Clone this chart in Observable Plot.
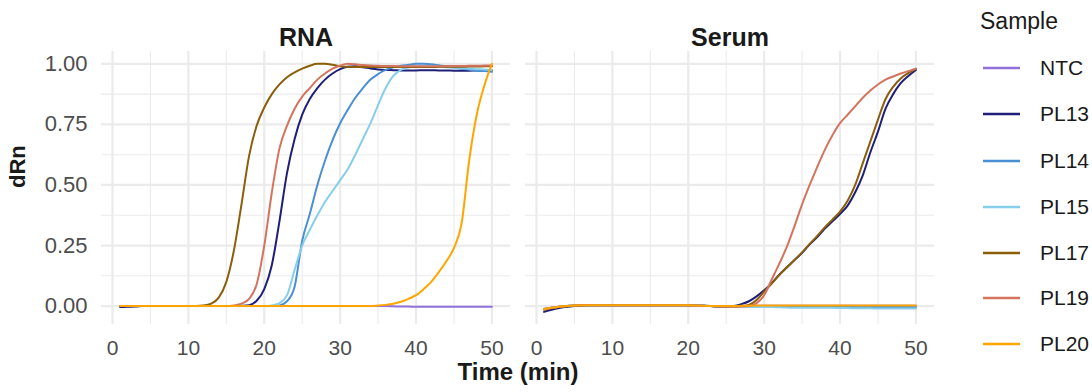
<!DOCTYPE html>
<html>
<head>
<meta charset="utf-8">
<script src="https://cdn.jsdelivr.net/npm/d3@7"></script>
<script src="https://cdn.jsdelivr.net/npm/@observablehq/plot@0.6"></script>
<style>
  html, body { margin: 0; padding: 0; background: #fff; }
  #wrap { position: relative; width: 1092px; height: 392px; font-family: "Liberation Sans", Arial, sans-serif; }
  #chart { position: absolute; left: 0; top: 0; }
  #legend { position: absolute; left: 960px; top: 0; }
</style>
</head>
<body>
<div id="wrap"><div id="chart"></div><div id="legend"></div></div>
<script>
// ---- data ----
const panels = ["RNA", "Serum"];
const samples = ["NTC", "PL13", "PL14", "PL15", "PL17", "PL19", "PL20"];
const colors = ["#9370DB", "#1F1F7A", "#4A8FD4", "#87CEEB", "#8B5E0A", "#D4735E", "#FFA500"];
const majorX = [0, 10, 20, 30, 40, 50];
const minorX = [5, 15, 25, 35, 45];
const majorY = [0, 0.25, 0.5, 0.75, 1];
const minorY = [0.125, 0.375, 0.625, 0.875];

const time = [1,2,3,4,5,6,7,8,9,10,11,12,13,14,15,16,17,18,19,20,21,22,23,24,25,26,27,28,29,30,31,32,33,34,35,36,37,38,39,40,41,42,43,44,45,46,47,48,49,50];

// RNA panel
const rnaNTC  = [0,0,0,0,0,0,0,0,0,0, 0,0,0,0,0,0,0,0,0,0, 0,0,0,0,0,0,0,0,0,0, 0,0,0,0,0,0,-0.001,-0.002,-0.002,-0.003, -0.003,-0.003,-0.003,-0.003,-0.003,-0.003,-0.003,-0.003,-0.003,-0.003];
const rnaPL13 = [-0.004,-0.003,-0.002,0,0,0,0,0,0,0, 0,0,0,0,0,0,0.001,0.004,0.022,0.07, 0.17,0.35,0.55,0.69,0.79,0.855,0.9,0.935,0.96,0.978, 0.988,0.99,0.986,0.981,0.977,0.975,0.974,0.973,0.973,0.973, 0.974,0.974,0.973,0.973,0.972,0.972,0.972,0.973,0.973,0.973];
const rnaPL14 = [0,0,0,0,0,0,0,0,0,0, 0,0,0,0,0,0,0,0,0,0, 0,0.003,0.02,0.08,0.27,0.38,0.5,0.6,0.685,0.755, 0.81,0.86,0.9,0.935,0.958,0.975,0.986,0.992,0.996,1.0, 1.0,0.998,0.994,0.99,0.985,0.98,0.976,0.972,0.97,0.967];
const rnaPL15 = [0,0,0,0,0,0,0,0,0,0, 0,0,0,0,0,0,0,0,0,0, 0.003,0.012,0.045,0.15,0.25,0.315,0.375,0.43,0.475,0.52, 0.565,0.625,0.69,0.755,0.83,0.9,0.95,0.975,0.985,0.99, 0.99,0.99,0.988,0.986,0.984,0.982,0.98,0.978,0.977,0.975];
const rnaPL17 = [0,0,0,0,0,0,0,0,0,0, 0,0.002,0.01,0.035,0.1,0.23,0.42,0.62,0.745,0.82, 0.875,0.915,0.945,0.965,0.98,0.992,1.0,1.0,0.996,0.99, 0.988,0.987,0.987,0.987,0.987,0.987,0.987,0.987,0.987,0.987, 0.987,0.987,0.988,0.988,0.988,0.988,0.989,0.989,0.99,0.99];
const rnaPL19 = [0,0,0,0,0,0,0,0,0,0, 0,0,0,0,0,0.003,0.01,0.03,0.09,0.25, 0.47,0.65,0.745,0.815,0.865,0.9,0.935,0.96,0.98,0.993, 1.0,0.998,0.995,0.993,0.992,0.991,0.991,0.99,0.99,0.99, 0.99,0.99,0.99,0.991,0.991,0.991,0.992,0.992,0.993,0.993];
const rnaPL20 = [0,0,0,0,0,0,0,0,0,0, 0,0,0,0,0,0,0,0,0,0, 0,0,0,0,0,0,0,0,0,0, 0,0,0,0,0.002,0.005,0.01,0.018,0.03,0.045, 0.07,0.1,0.14,0.185,0.24,0.34,0.6,0.79,0.91,1.0];

// Serum panel
const serumNTC  = [-0.012,-0.007,-0.003,0,0.002,0.003,0.003,0.003,0.003,0.003, 0.003,0.003,0.003,0.003,0.003,0.003,0.003,0.003,0.003,0.003, 0.002,0.001,0,-0.002,-0.002,-0.001,0,0.001,0.001,0.001, 0.001,0.001,0.001,0.001,0.001,0.001,0.001,0.001,0.001,0.001, 0.001,0.001,0.001,0.001,0.001,0.001,0.001,0.001,0.001,0.001];
const serumPL13 = [-0.024,-0.015,-0.008,-0.003,0,0.002,0.003,0.003,0.003,0.003, 0.003,0.003,0.003,0.003,0.003,0.003,0.003,0.003,0.003,0.003, 0.002,0.001,0,-0.002,-0.002,0,0.008,0.02,0.04,0.065, 0.095,0.13,0.16,0.19,0.22,0.255,0.285,0.32,0.35,0.38, 0.415,0.47,0.54,0.635,0.72,0.815,0.875,0.92,0.95,0.975];
const serumPL14 = [-0.012,-0.007,-0.003,0,0.002,0.003,0.003,0.003,0.003,0.003, 0.003,0.003,0.003,0.003,0.003,0.003,0.003,0.003,0.003,0.003, 0.002,0.001,0,-0.001,-0.001,-0.001,-0.001,-0.002,-0.002,-0.002, -0.003,-0.003,-0.003,-0.003,-0.003,-0.003,-0.004,-0.004,-0.004,-0.004, -0.004,-0.004,-0.004,-0.004,-0.004,-0.004,-0.004,-0.004,-0.004,-0.004];
const serumPL15 = [-0.012,-0.007,-0.003,0,0.002,0.003,0.003,0.003,0.003,0.003, 0.003,0.003,0.003,0.003,0.003,0.003,0.003,0.003,0.003,0.003, 0.002,0.001,0,-0.001,-0.001,-0.002,-0.002,-0.003,-0.003,-0.004, -0.004,-0.005,-0.006,-0.007,-0.007,-0.007,-0.007,-0.007,-0.007,-0.008, -0.008,-0.009,-0.009,-0.009,-0.01,-0.01,-0.01,-0.01,-0.01,-0.01];
const serumPL17 = [-0.015,-0.009,-0.004,-0.001,0.001,0.003,0.003,0.003,0.003,0.003, 0.003,0.003,0.003,0.003,0.003,0.003,0.003,0.003,0.003,0.003, 0.002,0.001,0,-0.001,-0.001,-0.001,0,0.005,0.025,0.06, 0.093,0.128,0.16,0.19,0.222,0.257,0.29,0.325,0.357,0.39, 0.435,0.5,0.59,0.68,0.77,0.855,0.905,0.94,0.962,0.98];
const serumPL19 = [-0.012,-0.007,-0.003,0,0.002,0.003,0.003,0.003,0.003,0.003, 0.003,0.003,0.003,0.003,0.003,0.003,0.003,0.003,0.003,0.003, 0.002,0.001,0,-0.002,-0.003,-0.003,-0.002,0,0.012,0.045, 0.11,0.175,0.245,0.33,0.42,0.5,0.575,0.645,0.705,0.755, 0.79,0.825,0.86,0.89,0.915,0.935,0.948,0.96,0.97,0.98];
const serumPL20 = [-0.012,-0.007,-0.003,0,0.002,0.003,0.003,0.003,0.003,0.003, 0.003,0.003,0.003,0.003,0.003,0.003,0.003,0.003,0.003,0.003, 0.002,0.001,0,0,0,0,0.001,0.001,0.002,0.002, 0.002,0.002,0.002,0.002,0.002,0.002,0.002,0.002,0.002,0.002, 0.002,0.002,0.002,0.002,0.002,0.002,0.002,0.002,0.002,0.002];

const seriesByPanel = {
  RNA:   [rnaNTC, rnaPL13, rnaPL14, rnaPL15, rnaPL17, rnaPL19, rnaPL20],
  Serum: [serumNTC, serumPL13, serumPL14, serumPL15, serumPL17, serumPL19, serumPL20]
};

const rows = [];
for (const panel of panels) {
  seriesByPanel[panel].forEach((vals, i) => {
    vals.forEach((v, j) => rows.push({panel, sample: samples[i], time: time[j], dRn: v}));
  });
}

// ---- chart ----
const FONT = "Liberation Sans, Arial, sans-serif";
const grid = "#EBEBEB";
const chart = Plot.plot({
  width: 960,
  height: 392,
  marginLeft: 100,
  marginRight: 25,
  marginTop: 51,
  marginBottom: 68,
  style: {fontFamily: FONT, background: "white", overflow: "visible"},
  fx: {domain: panels, paddingInner: 0.035, paddingOuter: 0, axis: null, label: null},
  x: {domain: [-1.45, 52.45]},
  y: {domain: [-0.076, 1.051]},
  color: {domain: samples, range: colors},
  marks: [
    Plot.gridX({ticks: minorX, stroke: grid, strokeOpacity: 1, strokeWidth: 1.1}),
    Plot.gridY({ticks: minorY, stroke: grid, strokeOpacity: 1, strokeWidth: 1.1}),
    Plot.gridX({ticks: majorX, stroke: grid, strokeOpacity: 1, strokeWidth: 2.2}),
    Plot.gridY({ticks: majorY, stroke: grid, strokeOpacity: 1, strokeWidth: 2.2}),
    Plot.axisX({ticks: majorX, tickSize: 0, tickPadding: 16, fontSize: 21, fill: "#4D4D4D", label: null}),
    Plot.axisY({ticks: majorY, tickSize: 0, tickPadding: 14, fontSize: 22, fill: "#4D4D4D", label: null, tickFormat: d3.format(".2f")}),
    Plot.text(panels, {fx: d => d, text: d => d, frameAnchor: "top", dy: -23, fontSize: 25, fontWeight: "bold", fill: "#1A1A1A"}),
    Plot.line(rows, {x: "time", y: "dRn", stroke: "sample", z: "sample", fx: "panel", strokeWidth: 2, curve: "monotone-x"}),
    Plot.text(["Time (min)"], {facet: "super", frameAnchor: "bottom", dy: 55, fontSize: 24, fontWeight: "bold", fill: "#1A1A1A"}),
    Plot.text(["dRn"], {facet: "super", frameAnchor: "left", dx: -84, rotate: -90, fontSize: 22, fontWeight: "bold", fill: "#1A1A1A"})
  ]
});
document.getElementById("chart").appendChild(chart);

// ---- legend ----
const leg = d3.select("#legend").append("svg")
  .attr("width", 132).attr("height", 392)
  .style("font-family", FONT);
leg.append("text").attr("x", 20).attr("y", 21).attr("dy", "0.35em")
  .attr("font-size", 23).attr("fill", "#1A1A1A").text("Sample");
const rowY = [68, 114, 161, 207, 253, 298, 344];
samples.forEach((s, i) => {
  leg.append("line").attr("x1", 23).attr("x2", 60).attr("y1", rowY[i]).attr("y2", rowY[i])
    .attr("stroke", colors[i]).attr("stroke-width", 2.6);
  leg.append("text").attr("x", 80).attr("y", rowY[i]).attr("dy", "0.35em")
    .attr("font-size", 21).attr("fill", "#1A1A1A").text(s);
});
</script>
</body>
</html>
